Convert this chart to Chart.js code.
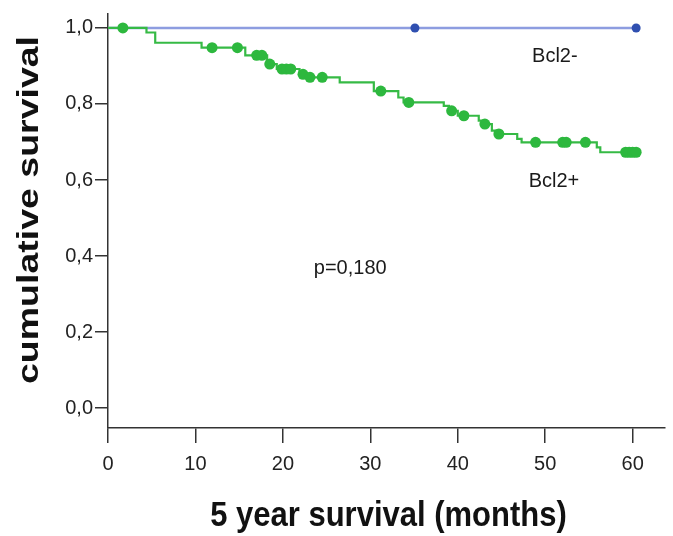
<!DOCTYPE html>
<html><head><meta charset="utf-8">
<script src="https://cdn.jsdelivr.net/npm/chart.js@4/dist/chart.umd.min.js"></script>
<style>html,body{margin:0;padding:0;background:#fff}#wrap{width:673px;height:536px;position:relative}</style>
</head><body><div id="wrap"><canvas id="c"></canvas></div>
<script>
// Bcl2+ Kaplan-Meier steps (months, cumulative survival)
const posTimes = [0, 4.4, 5.4, 10.7, 15.7, 18.2, 19.3, 21.9, 22.8, 26.5, 30.4, 33.2, 33.8, 38.4, 39.0, 40.0, 42.4, 42.9, 43.9, 44.4, 46.8, 47.3, 55.9, 56.3, 60.5];
const posSurv  = [1.0, 0.988, 0.961, 0.948, 0.928, 0.905, 0.892, 0.878, 0.870, 0.857, 0.834, 0.817, 0.804, 0.795, 0.782, 0.769, 0.756, 0.747, 0.730, 0.721, 0.708, 0.699, 0.686, 0.673, 0.673];
// Bcl2+ censored marks
const posCensTimes = [1.7, 11.9, 14.8, 17.0, 17.6, 18.5, 19.9, 20.4, 20.9, 22.3, 23.1, 24.5, 31.2, 34.4, 39.3, 40.7, 43.1, 44.7, 48.9, 52.0, 52.4, 54.6, 59.2, 59.6, 60.0, 60.4];
const posCensSurv  = [1.0, 0.948, 0.948, 0.928, 0.928, 0.905, 0.892, 0.892, 0.892, 0.878, 0.870, 0.870, 0.834, 0.804, 0.782, 0.769, 0.747, 0.721, 0.699, 0.699, 0.699, 0.699, 0.673, 0.673, 0.673, 0.673];
// Bcl2- curve
const negTimes = [0, 60.4];
const negSurv  = [1.0, 1.0];
const negCensTimes = [35.1, 60.4];
const negCensSurv  = [1.0, 1.0];
// ticks and texts
const xTicks = [0, 10, 20, 30, 40, 50, 60];
const yTicks = [0, 0.2, 0.4, 0.6, 0.8, 1.0];
const annoTexts = ['Bcl2-', 'Bcl2+', 'p=0,180'];
const xTitle = '5 year survival (months)';
const yTitle = 'cumulative survival';

const zip = (a, b) => a.map((v, i) => ({x: v, y: b[i]}));
const FONT = "'Liberation Sans', Arial, sans-serif";

const annoPlugin = {
  id: 'anno',
  afterDraw(chart) {
    const {ctx, scales: {x, y}, chartArea: ca} = chart;
    const pos = [[51.1, 0.925], [51.0, 0.596], [27.7, 0.367]];
    ctx.save();
    ctx.font = '20px ' + FONT;
    ctx.fillStyle = '#1a1a1a';
    ctx.textAlign = 'center';
    ctx.textBaseline = 'middle';
    annoTexts.forEach((t, i) => ctx.fillText(t, x.getPixelForValue(pos[i][0]), y.getPixelForValue(pos[i][1])));
    ctx.restore();
    // axis titles (stretched like the reference)
    ctx.save();
    ctx.fillStyle = '#111';
    ctx.textAlign = 'center';
    ctx.textBaseline = 'middle';
    ctx.font = 'bold 31px ' + FONT;
    ctx.translate((ca.left + ca.right) / 2 + 2, 516);
    ctx.scale(1, 1.12);
    ctx.fillText(xTitle, 0, 0);
    ctx.restore();
    ctx.save();
    ctx.fillStyle = '#111';
    ctx.textAlign = 'center';
    ctx.textBaseline = 'middle';
    ctx.font = 'bold 30px ' + FONT;
    ctx.translate(30, 210);
    ctx.rotate(-Math.PI / 2);
    ctx.scale(1.25, 1);
    ctx.fillText(yTitle, 0, 0);
    ctx.restore();
  }
};

new Chart(document.getElementById('c'), {
  type: 'line',
  data: {
    datasets: [
      {label: 'Bcl2+ censored', data: zip(posCensTimes, posCensSurv), showLine: false, pointRadius: 5.5, pointBackgroundColor: '#2db83e', pointBorderColor: '#2db83e', pointBorderWidth: 0, pointHoverRadius: 5.5},
      {label: 'Bcl2+', data: zip(posTimes, posSurv), stepped: 'before', borderColor: '#36ba45', borderWidth: 2.2, pointRadius: 0, fill: false},
      {label: 'Bcl2- censored', data: zip(negCensTimes, negCensSurv), showLine: false, pointRadius: 4.5, pointBackgroundColor: '#2f4fb0', pointBorderColor: '#2f4fb0', pointBorderWidth: 0},
      {label: 'Bcl2-', data: zip(negTimes, negSurv), borderColor: '#8d9de0', borderWidth: 2.5, pointRadius: 0, fill: false}
    ]
  },
  options: {
    responsive: true,
    maintainAspectRatio: false,
    animation: false,
    layout: {padding: {top: 7, right: 8, left: 0, bottom: 0}},
    plugins: {legend: {display: false}, tooltip: {enabled: false}},
    scales: {
      x: {
        type: 'linear', min: 0, max: 63.7,
        afterBuildTicks: s => { s.ticks = xTicks.map(v => ({value: v})); },
        afterFit: s => { s.height = 108; },
        grid: {drawOnChartArea: false, drawTicks: true, tickLength: 15, color: '#333', lineWidth: 1.5},
        border: {color: '#333', width: 1.5},
        ticks: {font: {family: FONT, size: 20}, color: '#222', padding: 9, maxRotation: 0},
        title: {display: false, text: xTitle}
      },
      y: {
        type: 'linear', min: -0.0525, max: 1.0367,
        afterBuildTicks: s => { s.ticks = yTicks.map(v => ({value: v})); },
        afterFit: s => { s.width = 108; },
        grid: {drawOnChartArea: false, drawTicks: true, tickLength: 13, color: '#333', lineWidth: 1.5},
        border: {color: '#333', width: 1.5},
        ticks: {font: {family: FONT, size: 20}, color: '#222', padding: 2, callback: v => v.toFixed(1).replace('.', ',')},
        title: {display: false, text: yTitle}
      }
    }
  },
  plugins: [annoPlugin]
});
</script></body></html>
